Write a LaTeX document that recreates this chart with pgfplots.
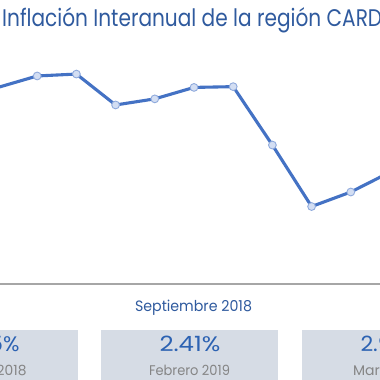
\documentclass[border=0pt]{standalone}
\usepackage{pgfplots}
\pgfplotsset{compat=1.18}
\usepackage{fontspec}
\setmainfont{Poppins}
\definecolor{lineblue}{HTML}{4472C4}
\definecolor{markfill}{HTML}{D3DEF3}
\definecolor{markdraw}{HTML}{8FAADC}
\definecolor{titleblue}{HTML}{2F5A9E}
\definecolor{numblue}{HTML}{2C62B2}
\definecolor{boxfill}{HTML}{D6DCE5}
\definecolor{labgray}{HTML}{858585}
\newsavebox\tbox
\newlength\tlen
\newcommand\fitw[3]{\sbox\tbox{\fontsize{#2}{#2}\selectfont #3}\setlength\tlen{\wd\tbox}\pgfmathsetmacro\sx{#1/\tlen}\scalebox{\sx}[1]{\usebox\tbox}}
\begin{document}
\begin{tikzpicture}
\useasboundingbox (0pt,0pt) rectangle (380pt,-380pt);
\clip (0pt,0pt) rectangle (380pt,-380pt);
\begin{axis}[at={(0pt,-284pt)}, anchor=south west, scale only axis,
  width=380pt, height=284pt,
  xmin=0.051, xmax=9.745, ymin=0, ymax=7.44,
  axis lines=none, clip=true]
\addplot[lineblue, line width=3.1pt, mark=*, mark size=3.9pt,
  mark options={fill=markfill, draw=markdraw, line width=0.9pt}]
  coordinates {(0,5.15) (1,5.45) (2,5.50) (3,4.69) (4,4.85) (5,5.15) (6,5.17) (7,3.64) (8,2.03) (9,2.41) (10,2.93)};
\end{axis}
\draw[black!35, line width=1.2pt] (0pt,-284pt) -- (380pt,-284pt);
\node[anchor=base west, text=titleblue, inner sep=0pt] at (2pt,-27pt) {\fitw{380}{24}{Inflación Interanual de la región CARD}};
\node[anchor=base, text=titleblue, inner sep=0pt] at (193.5pt,-311pt) {\fitw{117}{15}{Septiembre 2018}};
\fill[boxfill] (-100pt,-329.5pt) rectangle (78pt,-390pt);
\fill[boxfill] (101pt,-329.5pt) rectangle (278pt,-390pt);
\fill[boxfill] (302pt,-329.5pt) rectangle (480pt,-390pt);
\node[anchor=base, text=numblue, inner sep=0pt] at (-11pt,-351pt) {\fitw{61}{21}{4.35\%}};
\node[anchor=base, text=numblue, inner sep=0pt] at (190pt,-351pt) {\fitw{61}{21}{2.41\%}};
\node[anchor=base, text=numblue, inner sep=0pt] at (391pt,-351pt) {\fitw{61}{21}{2.93\%}};
\node[anchor=base, text=labgray, inner sep=0pt] at (-11pt,-375pt) {\fitw{75}{14}{Marzo 2018}};
\node[anchor=base, text=labgray, inner sep=0pt] at (189.5pt,-375pt) {\fitw{81}{14}{Febrero 2019}};
\node[anchor=base, text=labgray, inner sep=0pt] at (391pt,-375pt) {\fitw{76}{14}{Marzo 2019}};
\end{tikzpicture}
\end{document}
